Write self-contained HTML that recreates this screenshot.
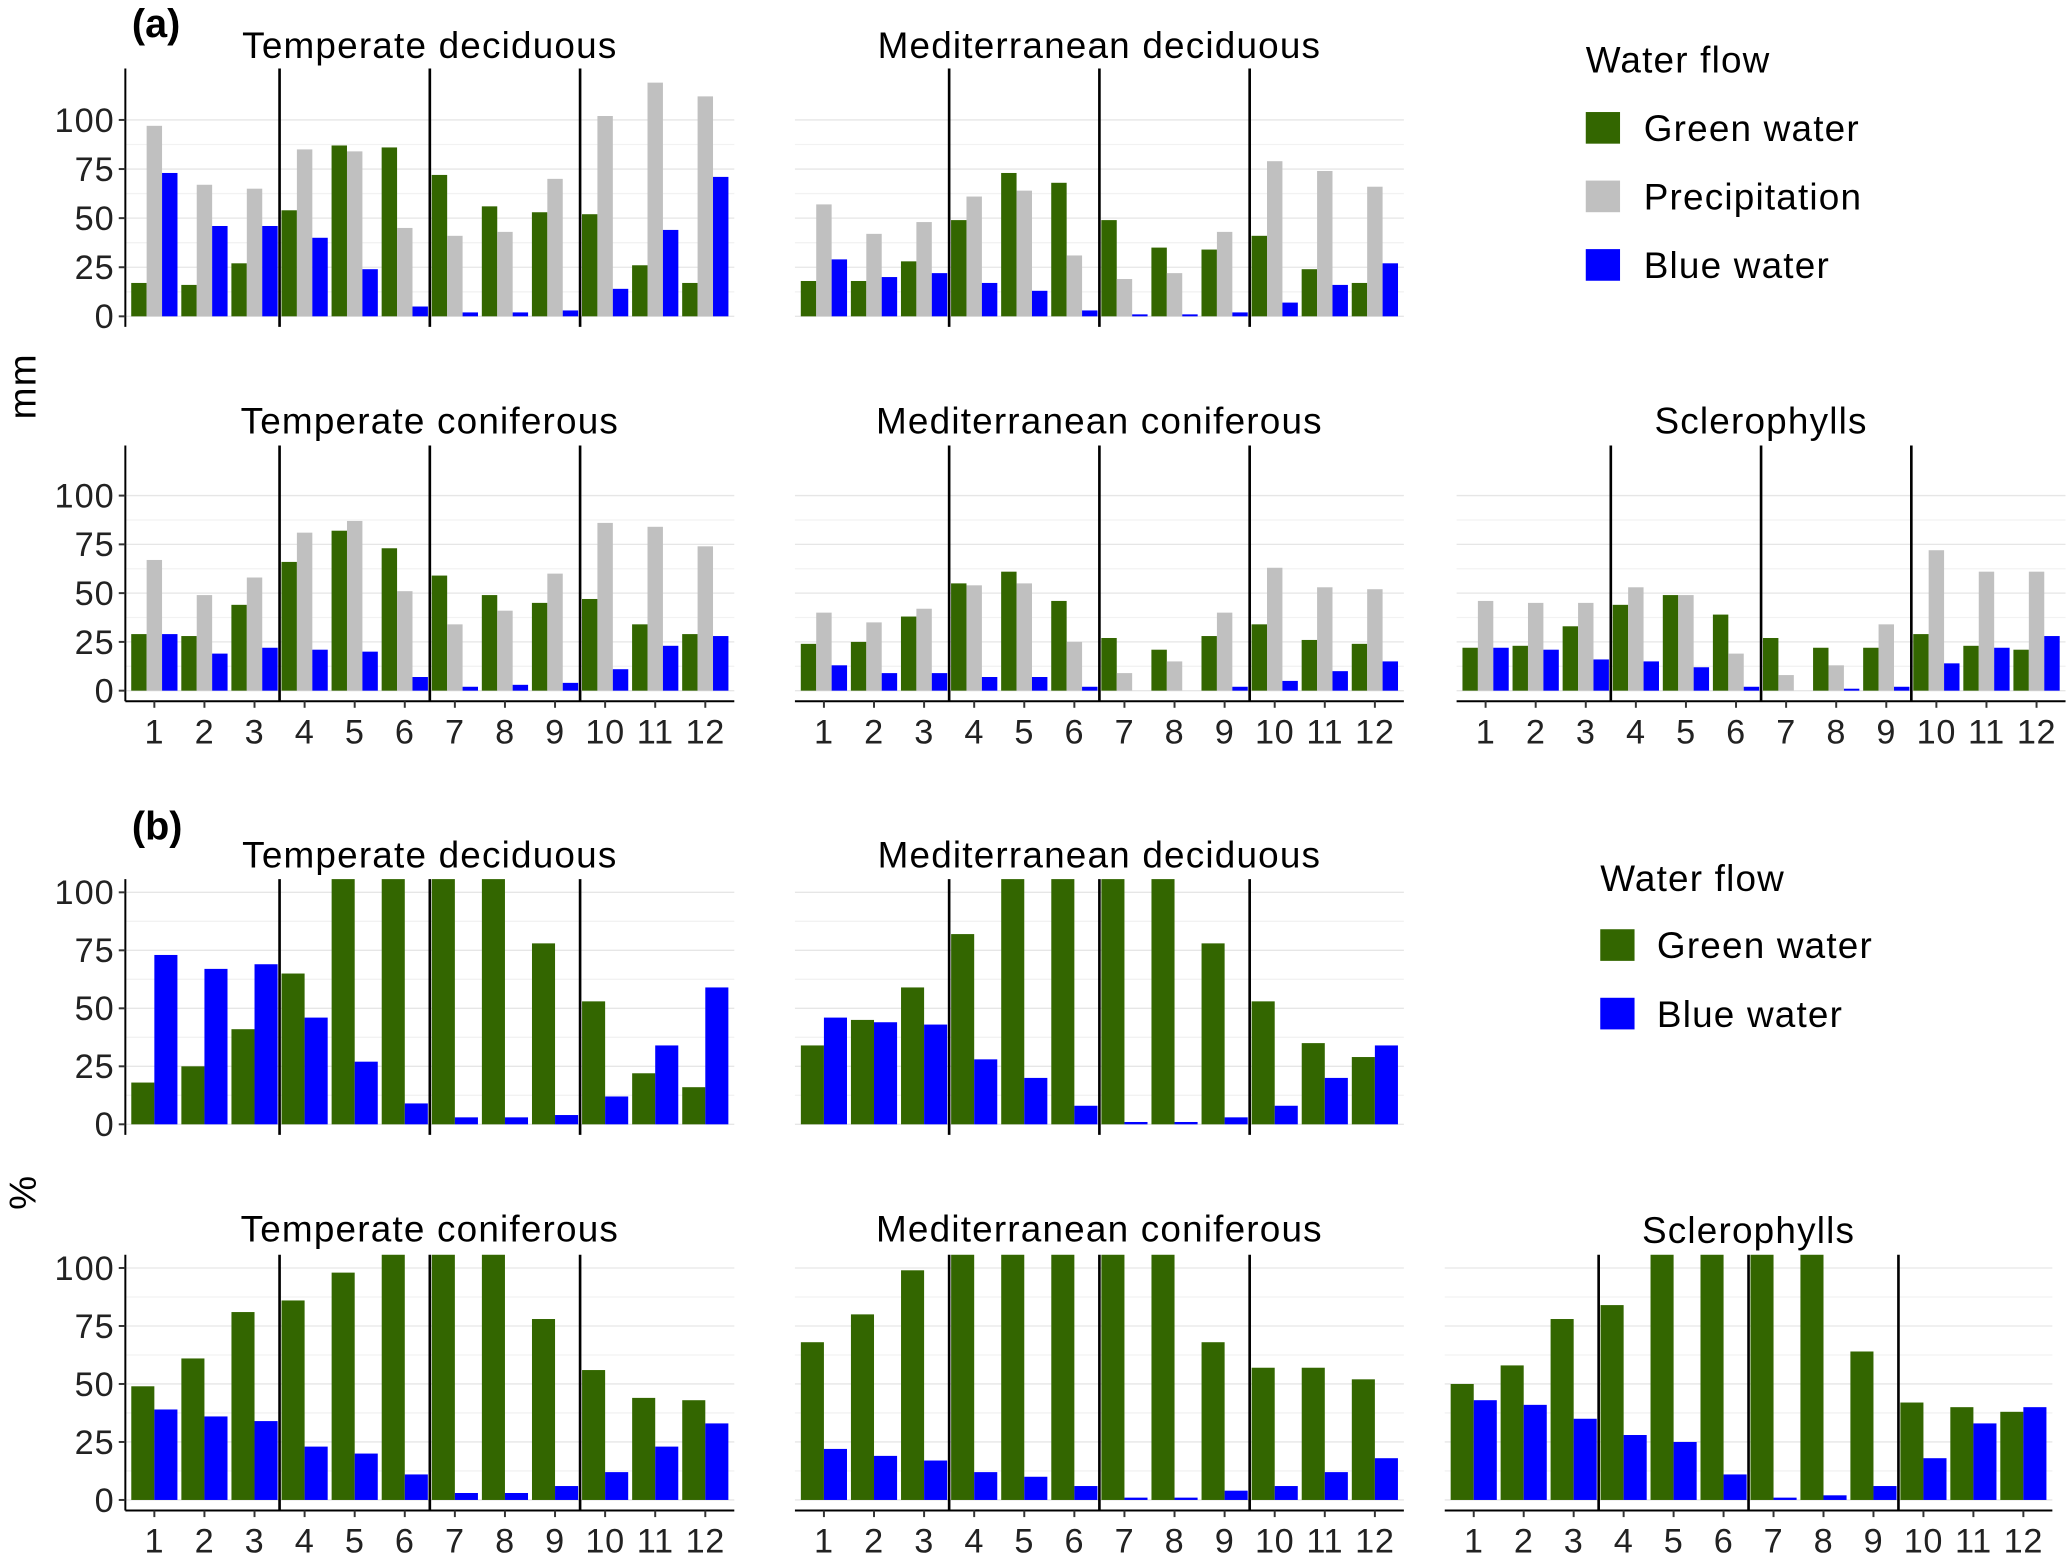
<!DOCTYPE html>
<html><head><meta charset="utf-8"><style>
html,body{margin:0;padding:0;background:#fff;}
svg{display:block;font-family:"Liberation Sans",sans-serif;}
</style></head><body>
<svg id="chart" width="2067" height="1554" viewBox="0 0 1568 1179" xmlns="http://www.w3.org/2000/svg">
<text x="100" y="28" font-size="30" font-weight="bold">(a)</text>
<text x="100" y="637" font-size="30" font-weight="bold">(b)</text>
<text transform="translate(27,293) rotate(-90)" font-size="29" text-anchor="middle" letter-spacing="1">mm</text>
<text transform="translate(27,905) rotate(-90)" font-size="29" text-anchor="middle">%</text>
<g letter-spacing="0.9">
<text x="1203" y="55" font-size="28">Water flow</text>
<rect x="1203" y="85" width="26" height="24" fill="#336600"/><text x="1247" y="107" font-size="28">Green water</text>
<rect x="1203" y="137" width="26" height="24" fill="#c0c0c0"/><text x="1247" y="159" font-size="28">Precipitation</text>
<rect x="1203" y="189" width="26" height="24" fill="#0000ff"/><text x="1247" y="211" font-size="28">Blue water</text>
</g>
<g letter-spacing="0.9">
<text x="1214" y="676" font-size="28">Water flow</text>
<rect x="1214" y="705" width="26" height="24" fill="#336600"/><text x="1257" y="727" font-size="28">Green water</text>
<rect x="1214" y="757" width="26" height="24" fill="#0000ff"/><text x="1257" y="779" font-size="28">Blue water</text>
</g>
</svg>
<script>
const months=[1,2,3,4,5,6,7,8,9,10,11,12];
const yTicks=[0,25,50,75,100];
// (a) mm
const tdGreenA=[17,16,27,54,87,86,72,56,53,52,26,17];
const tdPrecA=[97,67,65,85,84,45,41,43,70,102,119,112];
const tdBlueA=[73,46,46,40,24,5,2,2,3,14,44,71];
const mdGreenA=[18,18,28,49,73,68,49,35,34,41,24,17];
const mdPrecA=[57,42,48,61,64,31,19,22,43,79,74,66];
const mdBlueA=[29,20,22,17,13,3,1,1,2,7,16,27];
const tcGreenA=[29,28,44,66,82,73,59,49,45,47,34,29];
const tcPrecA=[67,49,58,81,87,51,34,41,60,86,84,74];
const tcBlueA=[29,19,22,21,20,7,2,3,4,11,23,28];
const mcGreenA=[24,25,38,55,61,46,27,21,28,34,26,24];
const mcPrecA=[40,35,42,54,55,25,9,15,40,63,53,52];
const mcBlueA=[13,9,9,7,7,2,0,0,2,5,10,15];
const scGreenA=[22,23,33,44,49,39,27,22,22,29,23,21];
const scPrecA=[46,45,45,53,49,19,8,13,34,72,61,61];
const scBlueA=[22,21,16,15,12,2,0,1,2,14,22,28];
// (b) %
const tdGreenB=[18,25,41,65,110,110,110,110,78,53,22,16];
const tdBlueB=[73,67,69,46,27,9,3,3,4,12,34,59];
const mdGreenB=[34,45,59,82,110,110,110,110,78,53,35,29];
const mdBlueB=[46,44,43,28,20,8,1,1,3,8,20,34];
const tcGreenB=[49,61,81,86,98,110,110,110,78,56,44,43];
const tcBlueB=[39,36,34,23,20,11,3,3,6,12,23,33];
const mcGreenB=[68,80,99,110,110,110,110,110,68,57,57,52];
const mcBlueB=[22,19,17,12,10,6,1,1,4,6,12,18];
const scGreenB=[50,58,78,84,110,110,110,110,64,42,40,38];
const scBlueB=[43,41,35,28,25,11,1,2,6,18,33,40];

const svg=document.getElementById('chart');
const NS='http://www.w3.org/2000/svg';
function mk(tag,attrs,parent){const e=document.createElementNS(NS,tag);for(const k in attrs)e.setAttribute(k,attrs[k]);(parent||svg).appendChild(e);return e;}
const COL={g:'#336600',p:'#c0c0c0',b:'#0000ff'};

function panel(o){
  const g=mk('g',{});
  
  
  const x1=o.c1,step=(o.c12-o.c1)/11;
  const xs=m=>x1+(m-1)*step;
  const ppu=(o.y0-o.y100)/100;
  const ys=v=>o.y0-Math.min(v,o.max)*ppu;
  const left=x1-22,right=o.c12+22;
  for(let v=0;v<=100+1e-6;v+=12.5){
    if(o.y0-v*ppu<o.top)continue;
    mk('line',{x1:left,x2:right,y1:ys(v),y2:ys(v),stroke:v%25===0?'#e6e6e6':'#f2f2f2','stroke-width':1},g);
  }
  const t=mk('text',{x:(left+right)/2+(o.tdx||0),y:o.ty,'font-size':28,'letter-spacing':0.9,'text-anchor':'middle'},g);
  t.textContent=o.title;
  
  
  const series=o.series;const bw=o.bw,n=series.length;
  months.forEach((m,i)=>{
    series.forEach((s,j)=>{
      const v=s.d[i];const cx=xs(m)-n*bw/2+j*bw;
      const r=mk('rect',{x:cx,y:ys(v),width:bw,height:Math.max(0,o.y0-ys(v)),fill:COL[s.c]},g);
      
      
    });
  });
  [3.5,6.5,9.5].forEach(s=>{mk('line',{x1:xs(s),x2:xs(s),y1:o.top,y2:o.y0+8,stroke:'#000','stroke-width':2},g);});
  if(o.yaxis){
    mk('line',{x1:left,x2:left,y1:o.top,y2:o.y0+8,stroke:'#000','stroke-width':1.5},g);
    yTicks.forEach(v=>{
      mk('line',{x1:left-5,x2:left,y1:ys(v),y2:ys(v),stroke:'#333','stroke-width':1.5},g);
      const tt=mk('text',{x:left-8,y:ys(v)+9,'font-size':26,'letter-spacing':0.8,'text-anchor':'end',fill:'#222'},g);
      tt.textContent=v;
      
      
    });
  }
  if(o.xaxis){
    mk('line',{x1:left,x2:right,y1:o.y0+8,y2:o.y0+8,stroke:'#000','stroke-width':1.5},g);
    months.forEach(m=>{
      mk('line',{x1:xs(m),x2:xs(m),y1:o.y0+8,y2:o.y0+13,stroke:'#333','stroke-width':1.5},g);
      const tt=mk('text',{x:xs(m),y:o.y0+40,'font-size':26,'letter-spacing':0.5,'text-anchor':'middle',fill:'#222'},g);
      tt.textContent=m;
      
      
    });
  }
}
const cols=[[117,535],[625,1043],[1127,1545]];
function A(g,p,b){return [{d:g,c:'g',k:'green'},{d:p,c:'p',k:'precip'},{d:b,c:'b',k:'blue'}];}
function B(g,b){return [{d:g,c:'g',k:'green'},{d:b,c:'b',k:'blue'}];}
panel({name:'panel-a-temperate-deciduous',title:'Temperate deciduous',c1:cols[0][0],c12:cols[0][1],y0:240,y100:91,top:52,ty:44,max:125,bw:11.7,series:A(tdGreenA,tdPrecA,tdBlueA),yaxis:true,xaxis:false});
panel({name:'panel-a-mediterranean-deciduous',title:'Mediterranean deciduous',c1:cols[1][0],c12:cols[1][1],y0:240,y100:91,top:52,ty:44,max:125,bw:11.7,series:A(mdGreenA,mdPrecA,mdBlueA),yaxis:false,xaxis:false});
panel({name:'panel-a-temperate-coniferous',title:'Temperate coniferous',c1:cols[0][0],c12:cols[0][1],y0:524,y100:376,top:338,ty:329,max:125,bw:11.7,series:A(tcGreenA,tcPrecA,tcBlueA),yaxis:true,xaxis:true});
panel({name:'panel-a-mediterranean-coniferous',title:'Mediterranean coniferous',c1:cols[1][0],c12:cols[1][1],y0:524,y100:376,top:338,ty:329,max:125,bw:11.7,series:A(mcGreenA,mcPrecA,mcBlueA),yaxis:false,xaxis:true});
panel({name:'panel-a-sclerophylls',title:'Sclerophylls',c1:cols[2][0],c12:cols[2][1],y0:524,y100:376,top:338,ty:329,max:125,bw:11.7,series:A(scGreenA,scPrecA,scBlueA),yaxis:false,xaxis:true});
panel({name:'panel-b-temperate-deciduous',title:'Temperate deciduous',c1:cols[0][0],c12:cols[0][1],y0:853,y100:677,top:667,ty:658,max:105.7,bw:17.5,series:B(tdGreenB,tdBlueB),yaxis:true,xaxis:false});
panel({name:'panel-b-mediterranean-deciduous',title:'Mediterranean deciduous',c1:cols[1][0],c12:cols[1][1],y0:853,y100:677,top:667,ty:658,max:105.7,bw:17.5,series:B(mdGreenB,mdBlueB),yaxis:false,xaxis:false});
panel({name:'panel-b-temperate-coniferous',title:'Temperate coniferous',c1:cols[0][0],c12:cols[0][1],y0:1138,y100:962,top:952,ty:942,max:105.7,bw:17.5,series:B(tcGreenB,tcBlueB),yaxis:true,xaxis:true});
panel({name:'panel-b-mediterranean-coniferous',title:'Mediterranean coniferous',c1:cols[1][0],c12:cols[1][1],y0:1138,y100:962,top:952,ty:942,max:105.7,bw:17.5,series:B(mcGreenB,mcBlueB),yaxis:false,xaxis:true});
panel({name:'panel-b-sclerophylls',title:'Sclerophylls',c1:1118,c12:1535,y0:1138,y100:962,top:952,ty:943,max:105.7,bw:17.5,series:B(scGreenB,scBlueB),yaxis:false,xaxis:true});
</script>
</body></html>
